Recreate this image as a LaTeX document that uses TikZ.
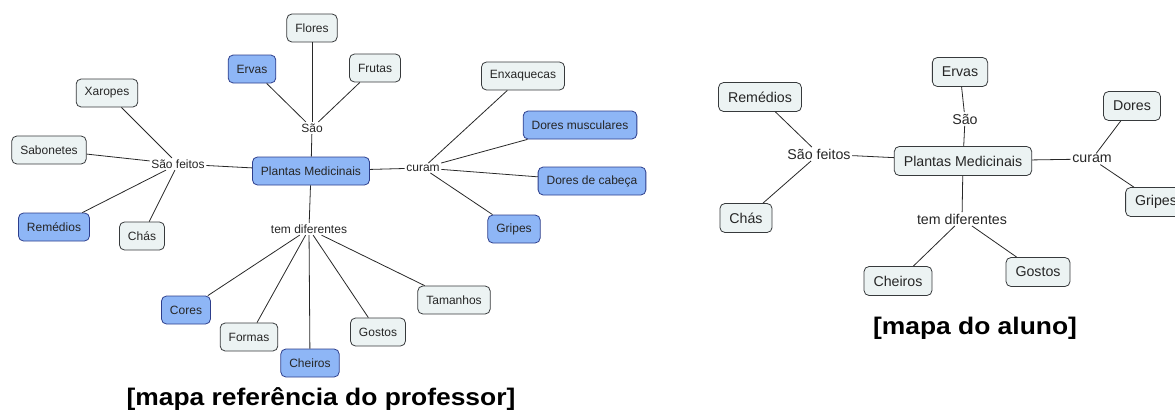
\documentclass[tikz,border=0pt]{standalone}
\usepackage{fontspec}
\setmainfont{Liberation Sans}
\newfontfamily\capfont[FakeStretch=1.1]{Liberation Sans}
\usepackage{xcolor}
\definecolor{boxfill}{RGB}{236,243,243}
\definecolor{boxline}{RGB}{55,58,60}
\definecolor{hitfill}{RGB}{142,182,246}
\definecolor{hitline}{RGB}{45,62,140}
\definecolor{linkcol}{RGB}{40,40,40}
\colorlet{textcol}{black!85}

\begin{document}
\begin{tikzpicture}[x=1pt, y=-1pt,
      concept/.style = {draw=boxline, fill=boxfill, rounded corners=5pt,
                        line width=0.8pt, inner xsep=8.5pt, inner ysep=0pt,
                        minimum height=28pt, text=textcol,
                        font=\fontsize{12}{14}\selectfont},
      hit/.style     = {concept, draw=hitline, fill=hitfill},
      student/.style = {concept, inner xsep=9.5pt, minimum height=29pt,
                        font=\fontsize{14.2}{16}\selectfont},
      phrase/.style  = {inner sep=1.5pt, text=textcol,
                        font=\fontsize{12}{14}\selectfont},
      phrase2/.style = {phrase, font=\fontsize{14.2}{16}\selectfont},
      link/.style    = {draw=linkcol, line width=0.8pt},
      caption/.style = {font=\capfont\bfseries\fontsize{24}{26}\selectfont}
    ]
    \clip (0,0) rectangle (1175,415);

    % mapa do professor
    \node[concept] (flores)    at (312,28)  {Flores};
    \node[hit]     (ervas)     at (252,69)  {Ervas};
    \node[concept] (frutas)    at (375,68)  {Frutas};
    \node[phrase]  (sao)       at (312,128) {São};
    \node[hit]     (pm)        at (311,171) {Plantas Medicinais};
    \node[concept] (xaropes)   at (107,93)  {Xaropes};
    \node[concept] (sabonetes) at (49,150)  {Sabonetes};
    \node[phrase]  (feitos)    at (178,164) {São feitos};
    \node[hit]     (remedios)  at (54,227)  {Remédios};
    \node[concept] (chas)      at (142,236) {Chás};
    \node[phrase]  (curam)     at (423,168) {curam};
    \node[concept] (enxaq)     at (523,76)  {Enxaquecas};
    \node[hit]     (doresmusc) at (580,125) {Dores musculares};
    \node[hit]     (dorescab)  at (592,181) {Dores de cabeça};
    \node[hit]     (gripes)    at (514,229) {Gripes};
    \node[phrase]  (temdif)    at (309,229) {tem diferentes};
    \node[hit]     (cores)     at (186,310) {Cores};
    \node[concept] (formas)    at (249,337) {Formas};
    \node[hit]     (cheiros)   at (310,363) {Cheiros};
    \node[concept] (gostos)    at (378,332) {Gostos};
    \node[concept] (tamanhos)  at (454,300) {Tamanhos};

    \foreach \c in {flores, ervas, frutas, pm}
      \draw[link] (\c) -- (sao);
    \foreach \c in {xaropes, sabonetes, remedios, chas, pm}
      \draw[link] (\c) -- (feitos);
    \foreach \c in {pm, enxaq, doresmusc, dorescab, gripes}
      \draw[link] (\c) -- (curam);
    \foreach \c in {pm, cores, formas, cheiros, gostos, tamanhos}
      \draw[link] (\c) -- (temdif);

    \node[caption] (cap1) at (321,399) {[mapa referência do professor]};

    % mapa do aluno
    \node[student] (ervas2)    at (960,72)   {Ervas};
    \node[phrase2] (sao2)      at (965,119)  {São};
    \node[student] (pm2)       at (963,161)  {Plantas Medicinais};
    \node[student] (remedios2) at (760,97)   {Remédios};
    \node[phrase2] (feitos2)   at (819,154)  {São feitos};
    \node[student] (chas2)     at (746,218)  {Chás};
    \node[phrase2] (temdif2)   at (962,219)  {tem diferentes};
    \node[student] (cheiros2)  at (898,281)  {Cheiros};
    \node[student] (gostos2)   at (1038,272) {Gostos};
    \node[phrase2] (curam2)    at (1092,159) {curam};
    \node[student] (dores2)    at (1132,106) {Dores};
    \node[student] (gripes2)   at (1156,202) {Gripes};

    \foreach \c in {ervas2, pm2}
      \draw[link] (\c) -- (sao2);
    \foreach \c in {remedios2, chas2, pm2}
      \draw[link] (\c) -- (feitos2);
    \foreach \c in {pm2, cheiros2, gostos2}
      \draw[link] (\c) -- (temdif2);
    \foreach \c in {pm2, dores2, gripes2}
      \draw[link] (\c) -- (curam2);

    \node[caption] (cap2) at (975,328) {[mapa do aluno]};
  \end{tikzpicture}
\end{document}
